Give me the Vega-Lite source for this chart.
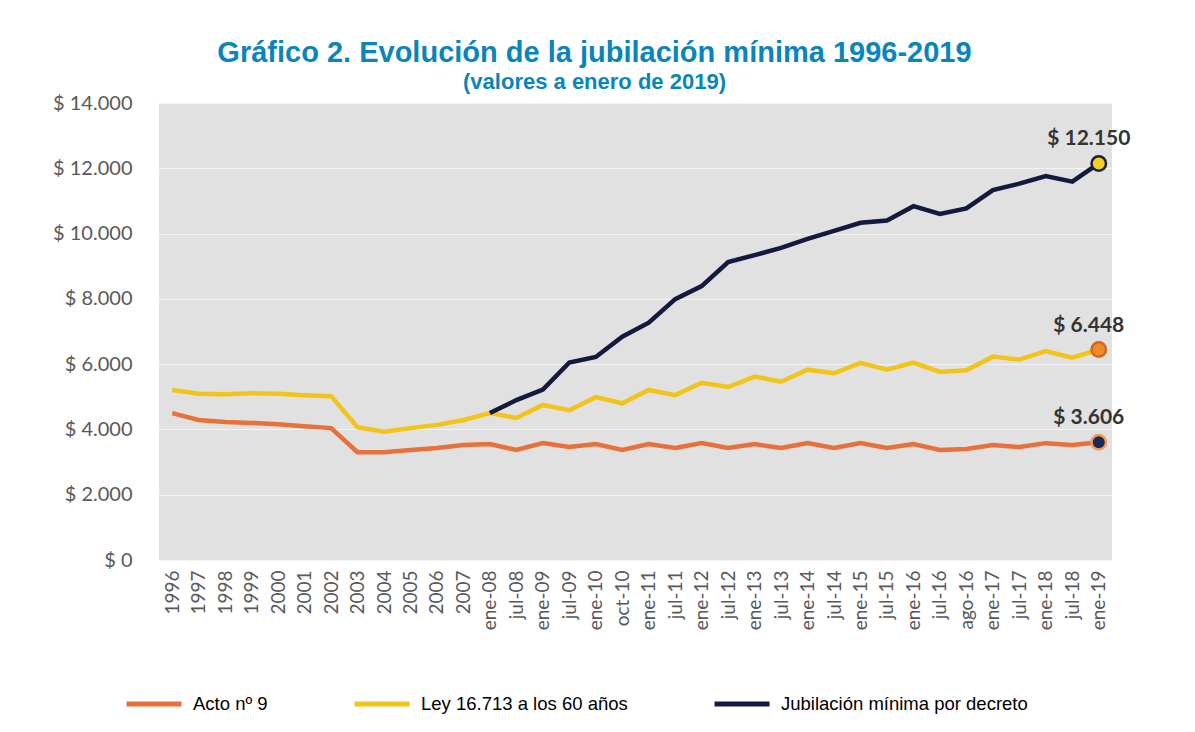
{
  "$schema": "https://vega.github.io/schema/vega-lite/v6.json",
  "width": 953,
  "height": 457,
  "autosize": {"type": "none"},
  "padding": {"left": 159, "top": 103, "right": 83, "bottom": 172},
  "background": "white",
  "title": {
    "text": "Gráfico 2. Evolución de la jubilación mínima 1996-2019",
    "subtitle": "(valores a enero de 2019)",
    "font": "Liberation Sans",
    "fontSize": 29,
    "fontWeight": "bold",
    "color": "#0a85bc",
    "subtitleFont": "Liberation Sans",
    "subtitleFontSize": 22,
    "subtitleFontWeight": "bold",
    "subtitleColor": "#0a85bc",
    "subtitlePadding": 4,
    "anchor": "middle",
    "dx": -41,
    "offset": 0
  },
  "data": {
    "values": [
      {"periodo": "1996", "acto": 4500, "ley": 5210, "jub": null},
      {"periodo": "1997", "acto": 4290, "ley": 5090, "jub": null},
      {"periodo": "1998", "acto": 4230, "ley": 5080, "jub": null},
      {"periodo": "1999", "acto": 4200, "ley": 5110, "jub": null},
      {"periodo": "2000", "acto": 4160, "ley": 5090, "jub": null},
      {"periodo": "2001", "acto": 4100, "ley": 5050, "jub": null},
      {"periodo": "2002", "acto": 4040, "ley": 5020, "jub": null},
      {"periodo": "2003", "acto": 3300, "ley": 4070, "jub": null},
      {"periodo": "2004", "acto": 3300, "ley": 3930, "jub": null},
      {"periodo": "2005", "acto": 3370, "ley": 4040, "jub": null},
      {"periodo": "2006", "acto": 3430, "ley": 4140, "jub": null},
      {"periodo": "2007", "acto": 3520, "ley": 4290, "jub": null},
      {"periodo": "ene-08", "acto": 3550, "ley": 4500, "jub": 4500},
      {"periodo": "jul-08", "acto": 3370, "ley": 4350, "jub": 4900},
      {"periodo": "ene-09", "acto": 3580, "ley": 4750, "jub": 5220},
      {"periodo": "jul-09", "acto": 3460, "ley": 4590, "jub": 6050},
      {"periodo": "ene-10", "acto": 3550, "ley": 4990, "jub": 6220},
      {"periodo": "oct-10", "acto": 3370, "ley": 4800, "jub": 6840},
      {"periodo": "ene-11", "acto": 3550, "ley": 5210, "jub": 7270},
      {"periodo": "jul-11", "acto": 3430, "ley": 5050, "jub": 7990},
      {"periodo": "ene-12", "acto": 3580, "ley": 5430, "jub": 8390},
      {"periodo": "jul-12", "acto": 3430, "ley": 5300, "jub": 9130},
      {"periodo": "ene-13", "acto": 3550, "ley": 5620, "jub": 9340},
      {"periodo": "jul-13", "acto": 3430, "ley": 5460, "jub": 9560},
      {"periodo": "ene-14", "acto": 3580, "ley": 5830, "jub": 9840},
      {"periodo": "jul-14", "acto": 3430, "ley": 5720, "jub": 10080},
      {"periodo": "ene-15", "acto": 3580, "ley": 6040, "jub": 10330},
      {"periodo": "jul-15", "acto": 3430, "ley": 5830, "jub": 10400},
      {"periodo": "ene-16", "acto": 3550, "ley": 6050, "jub": 10840},
      {"periodo": "jul-16", "acto": 3370, "ley": 5760, "jub": 10600},
      {"periodo": "ago-16", "acto": 3400, "ley": 5810, "jub": 10770},
      {"periodo": "ene-17", "acto": 3520, "ley": 6230, "jub": 11330},
      {"periodo": "jul-17", "acto": 3460, "ley": 6140, "jub": 11530},
      {"periodo": "ene-18", "acto": 3580, "ley": 6400, "jub": 11760},
      {"periodo": "jul-18", "acto": 3520, "ley": 6200, "jub": 11590},
      {"periodo": "ene-19", "acto": 3606, "ley": 6448, "jub": 12150}
    ]
  },
  "transform": [{"fold": ["acto", "ley", "jub"], "as": ["serie", "valor"]}],
  "encoding": {
    "x": {
      "field": "periodo",
      "type": "ordinal",
      "scale": {"domain": ["1996","1997","1998","1999","2000","2001","2002","2003","2004","2005","2006","2007","ene-08","jul-08","ene-09","jul-09","ene-10","oct-10","ene-11","jul-11","ene-12","jul-12","ene-13","jul-13","ene-14","jul-14","ene-15","jul-15","ene-16","jul-16","ago-16","ene-17","jul-17","ene-18","jul-18","ene-19"]},
      "axis": {
        "title": null,
        "labelAngle": -90,
        "labelFont": "Lato",
        "labelFontSize": 19,
        "labelColor": "#595959",
        "labelPadding": 10,
        "ticks": false,
        "domain": false,
        "grid": false
      }
    },
    "y": {
      "field": "valor",
      "type": "quantitative",
      "scale": {"domain": [0, 14000], "nice": false},
      "axis": {
        "title": null,
        "values": [0, 2000, 4000, 6000, 8000, 10000, 12000, 14000],
        "format": "$,d",
        "labelFont": "Lato",
        "labelFontSize": 20,
        "labelColor": "#595959",
        "labelPadding": 27,
        "ticks": false,
        "domain": false,
        "grid": true,
        "gridColor": "#f4f4f4",
        "gridWidth": 1
      }
    }
  },
  "layer": [
    {
      "mark": {"type": "line", "strokeWidth": 4.5},
      "encoding": {
        "color": {
          "field": "serie",
          "type": "nominal",
          "scale": {"domain": ["acto", "ley", "jub"], "range": ["#e8703a", "#f2c418", "#14193f"]},
          "legend": {
            "orient": "none",
            "legendX": -35,
            "legendY": 571,
            "direction": "horizontal",
            "title": null,
            "symbolType": "stroke",
            "symbolSize": 3025,
            "symbolStrokeWidth": 5,
            "labelFont": "Liberation Sans",
            "labelFontSize": 18.5,
            "labelColor": "#000000",
            "labelOffset": 9,
            "labelLimit": 400,
            "columnPadding": 76,
            "padding": 0,
            "labelExpr": "datum.label == 'acto' ? 'Acto nº 9' : datum.label == 'ley' ? 'Ley 16.713 a los 60 años' : 'Jubilación mínima por decreto'"
          }
        }
      }
    },
    {
      "transform": [{"filter": "datum.periodo == 'ene-19'"}],
      "mark": {"type": "point", "filled": true, "size": 210, "strokeWidth": 2.5, "opacity": 1},
      "encoding": {
        "fill": {"field": "serie", "type": "nominal", "scale": {"domain": ["acto", "ley", "jub"], "range": ["#1b2a55", "#f08a2c", "#f5d21d"]}, "legend": null},
        "stroke": {"field": "serie", "type": "nominal", "scale": {"domain": ["acto", "ley", "jub"], "range": ["#f39a5b", "#d9661e", "#1b2040"]}, "legend": null}
      }
    },
    {
      "transform": [{"filter": "datum.periodo == 'ene-19'"}],
      "mark": {"type": "text", "dy": -24, "dx": -10, "font": "Lato", "fontSize": 21, "fontWeight": "bold", "color": "#333333"},
      "encoding": {
        "text": {"field": "valor", "type": "quantitative", "format": "$,d"}
      }
    }
  ],
  "config": {
    "view": {"fill": "#e1e1e1", "stroke": null},
    "locale": {"number": {"decimal": ",", "thousands": ".", "grouping": [3], "currency": ["$ ", ""]}}
  }
}
